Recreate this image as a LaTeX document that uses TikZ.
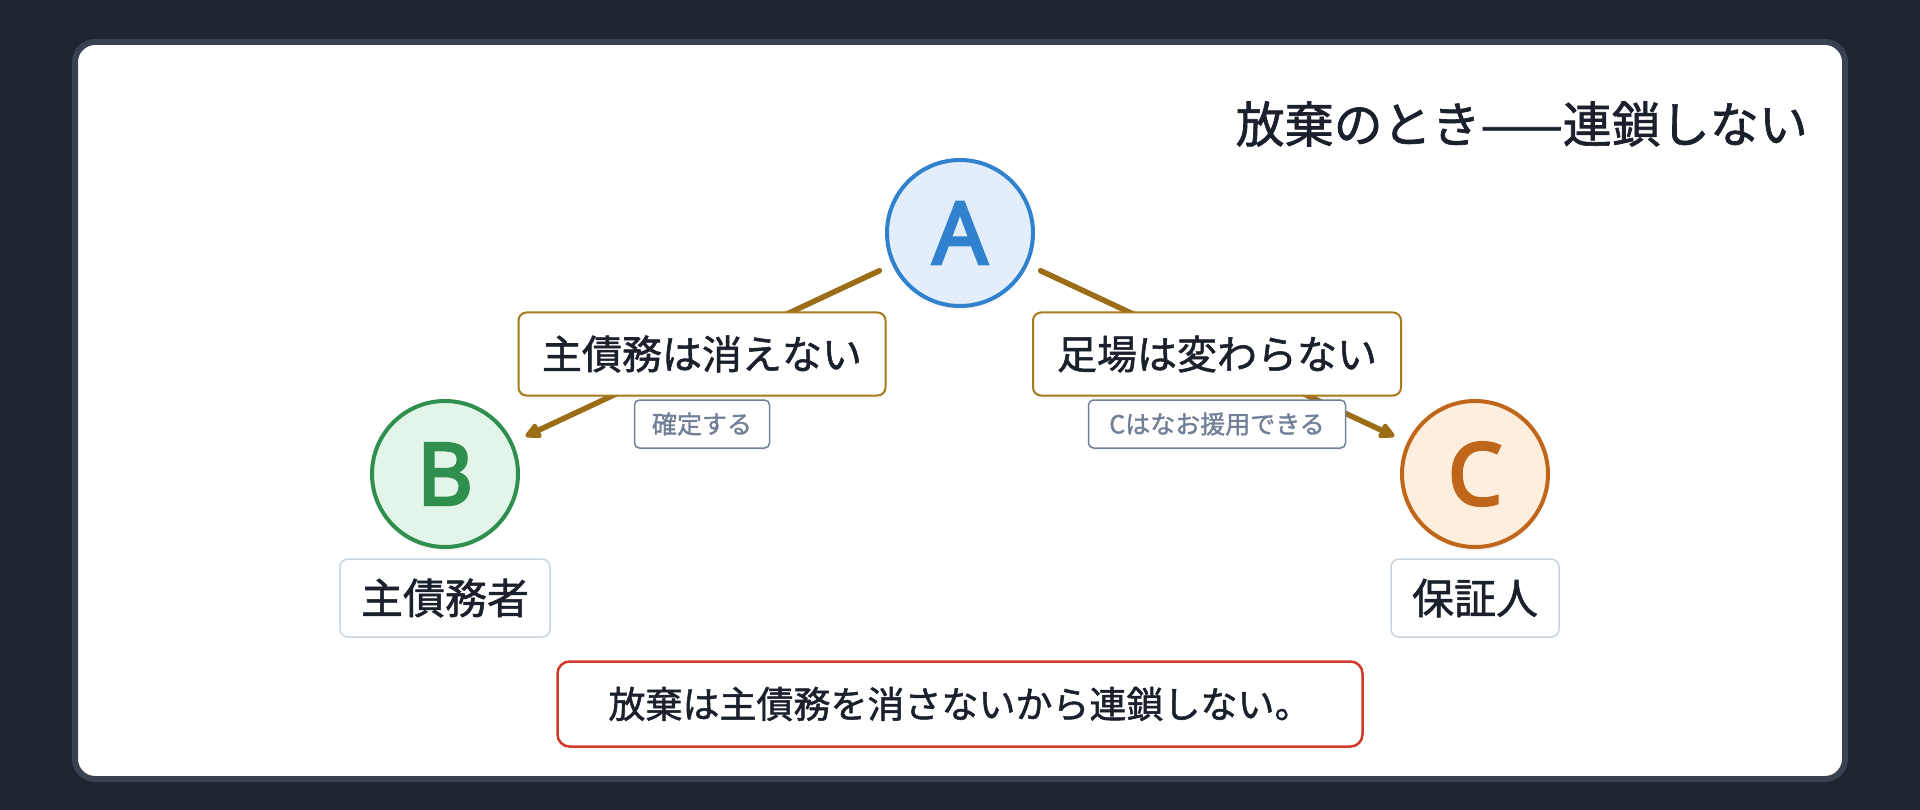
\documentclass[tikz,border=0pt]{standalone}
\usepackage{fontspec}
\setmainfont{Noto Sans CJK JP}[FakeBold=1.3]
\newfontfamily\letterfont{Noto Sans}[FakeBold=3.5]
\usetikzlibrary{arrows.meta,shadows}
\definecolor{bg}{HTML}{1E2430}
\definecolor{cardedge}{HTML}{3A4252}
\definecolor{ink}{HTML}{1A202C}
\definecolor{aline}{HTML}{3182CE}
\definecolor{afill}{HTML}{E3EEFA}
\definecolor{bline}{HTML}{2F8F4E}
\definecolor{bfill}{HTML}{E3F5E8}
\definecolor{cline}{HTML}{C0661A}
\definecolor{cfill}{HTML}{FDEEDD}
\definecolor{edgec}{HTML}{9C6D17}
\definecolor{elabel}{HTML}{A87A1E}
\definecolor{smallc}{HTML}{718096}
\definecolor{namec}{HTML}{CBD5E0}
\definecolor{notec}{HTML}{D03A2A}
\begin{document}
\begin{tikzpicture}[x=1pt,y=-1pt,
  party/.style={circle, minimum size=146pt, inner sep=0pt, line width=4pt,
    font=\letterfont\fontsize{86}{86}\selectfont,
    drop shadow={opacity=0.08, shadow xshift=0pt, shadow yshift=-4pt}},
  namebox/.style={draw=namec, fill=white, line width=1.5pt, rounded corners=8pt,
    minimum height=78pt, inner sep=0pt, text=ink, font=\fontsize{42}{42}\selectfont},
  elabelbox/.style={draw=elabel, fill=white, line width=2pt, rounded corners=8pt,
    minimum height=83pt, inner sep=0pt, text=ink, font=\fontsize{40}{40}\selectfont,
    drop shadow={opacity=0.07, shadow xshift=0pt, shadow yshift=-3pt}},
  smallbox/.style={draw=smallc, fill=white, line width=1.5pt, rounded corners=5pt,
    minimum height=48pt, inner sep=0pt, text=smallc, font=\fontsize{25}{25}\selectfont,
    drop shadow={opacity=0.07, shadow xshift=0pt, shadow yshift=-3pt}},
  conn/.style={draw=edgec, line width=5.5pt, line cap=round,
    -{Triangle[length=18pt,width=17pt,round]}, shorten <=14pt, shorten >=14pt}
]
\useasboundingbox (0,0) rectangle (1920,810);
\fill[bg] (0,0) rectangle (1920,810);
\draw[cardedge, fill=white, line width=6pt, rounded corners=20pt] (75,42) rectangle (1845,779);

\node[party, draw=aline, fill=afill, text=aline] (A) at (960,233) {A};
\node[party, draw=bline, fill=bfill, text=bline] (B) at (445,474) {B};
\node[party, draw=cline, fill=cfill, text=cline] (C) at (1475,474) {C};

\draw[conn] (A) -- (B);
\draw[conn] (A) -- (C);

\node[elabelbox, minimum width=367pt] (lab) at (702,354) {主債務は消えない};
\node[elabelbox, minimum width=368pt] (lac) at (1217,354) {足場は変わらない};
\node[smallbox, minimum width=135pt] (sab) at (702,424) {確定する};
\node[smallbox, minimum width=257pt] (sac) at (1217,424) {Cはなお援用できる};

\node[namebox, minimum width=210pt] (nb) at (445,598) {主債務者};
\node[namebox, minimum width=168pt] (nc) at (1475,598) {保証人};

\node[anchor=east, text=ink, font=\fontsize{49}{49}\selectfont, inner sep=0pt] (title) at (1808,124) {放棄のとき——連鎖しない};

\node[draw=notec, fill=white, line width=2.5pt, rounded corners=12pt,
  minimum width=805pt, minimum height=85pt, inner sep=0pt, text=ink,
  font=\fontsize{37}{37}\selectfont,
  drop shadow={opacity=0.07, shadow xshift=0pt, shadow yshift=-3pt}] (note) at (960,704)
  {放棄は主債務を消さないから連鎖しない。};
\end{tikzpicture}
\end{document}
